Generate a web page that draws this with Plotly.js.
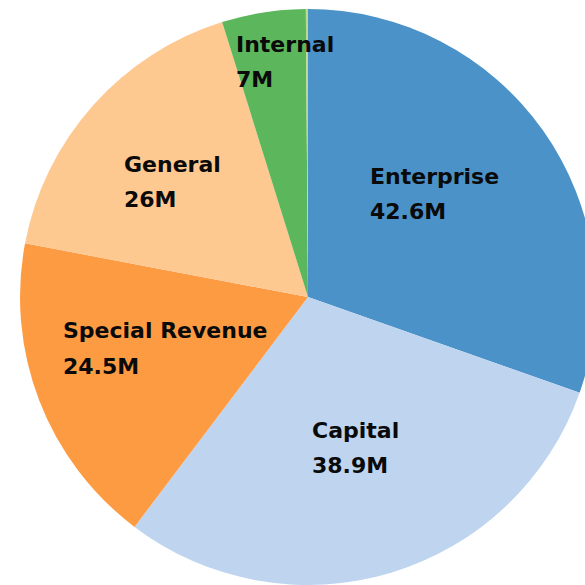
<!DOCTYPE html>
<html>
<head>
<meta charset="utf-8">
<script src="https://cdn.plot.ly/plotly-3.0.1.min.js"></script>
<style>
  html, body { margin: 0; padding: 0; overflow: hidden; background: #ffffff; }
  #chart { width: 610px; height: 600px; }
</style>
</head>
<body>
<div id="chart"></div>
<script>
// Fund categories, clockwise from 12 o'clock
const categories = ["Enterprise", "Capital", "Special Revenue", "General", "Internal", ""];
// Slice shares (%) as drawn in the picture
const sliceShares = [30.4, 29.9, 17.7, 17.2, 4.7, 0.12];
// Value labels printed on the slices
const valueLabels = ["42.6M", "38.9M", "24.5M", "26M", "7M", ""];
const sliceColors = ["#4b92c9", "#bed4ef", "#fd9b43", "#fec891", "#5cb65b", "#b9d98c"];

// label anchor points (pixels on the page): left x, name line y, value line y
const labelPos = [
  [368, 177, 212],
  [310, 430, 465],
  [61, 330, 366],
  [122, 164, 199],
  [234, 44, 80]
];

const W = 610, H = 600;
const annotations = [];
for (let i = 0; i < labelPos.length; i++) {
  const [px, py1, py2] = labelPos[i];
  const font = {family: "'DejaVu Sans', sans-serif", size: 22, color: "#0a0a0a", weight: 700};
  annotations.push({xref: "paper", yref: "paper", x: px / W, y: 1 - py1 / H,
    xanchor: "left", yanchor: "middle", showarrow: false, text: categories[i], font: font});
  annotations.push({xref: "paper", yref: "paper", x: px / W, y: 1 - py2 / H,
    xanchor: "left", yanchor: "middle", showarrow: false, text: valueLabels[i], font: font});
}

const trace = {
  type: "pie",
  labels: categories.map((c, i) => c || "Other"),
  values: sliceShares,
  sort: false,
  direction: "clockwise",
  rotation: 0,
  textinfo: "none",
  hoverinfo: "label",
  marker: {colors: sliceColors, line: {width: 0}},
  domain: {x: [20 / W, 596 / W], y: [1 - 585 / H, 1 - 9 / H]},
  showlegend: false
};

Plotly.newPlot("chart", [trace], {
  width: W, height: H,
  margin: {l: 0, r: 0, t: 0, b: 0},
  paper_bgcolor: "#ffffff",
  showlegend: false,
  annotations: annotations
}, {displayModeBar: false, staticPlot: true});
</script>
</body>
</html>
